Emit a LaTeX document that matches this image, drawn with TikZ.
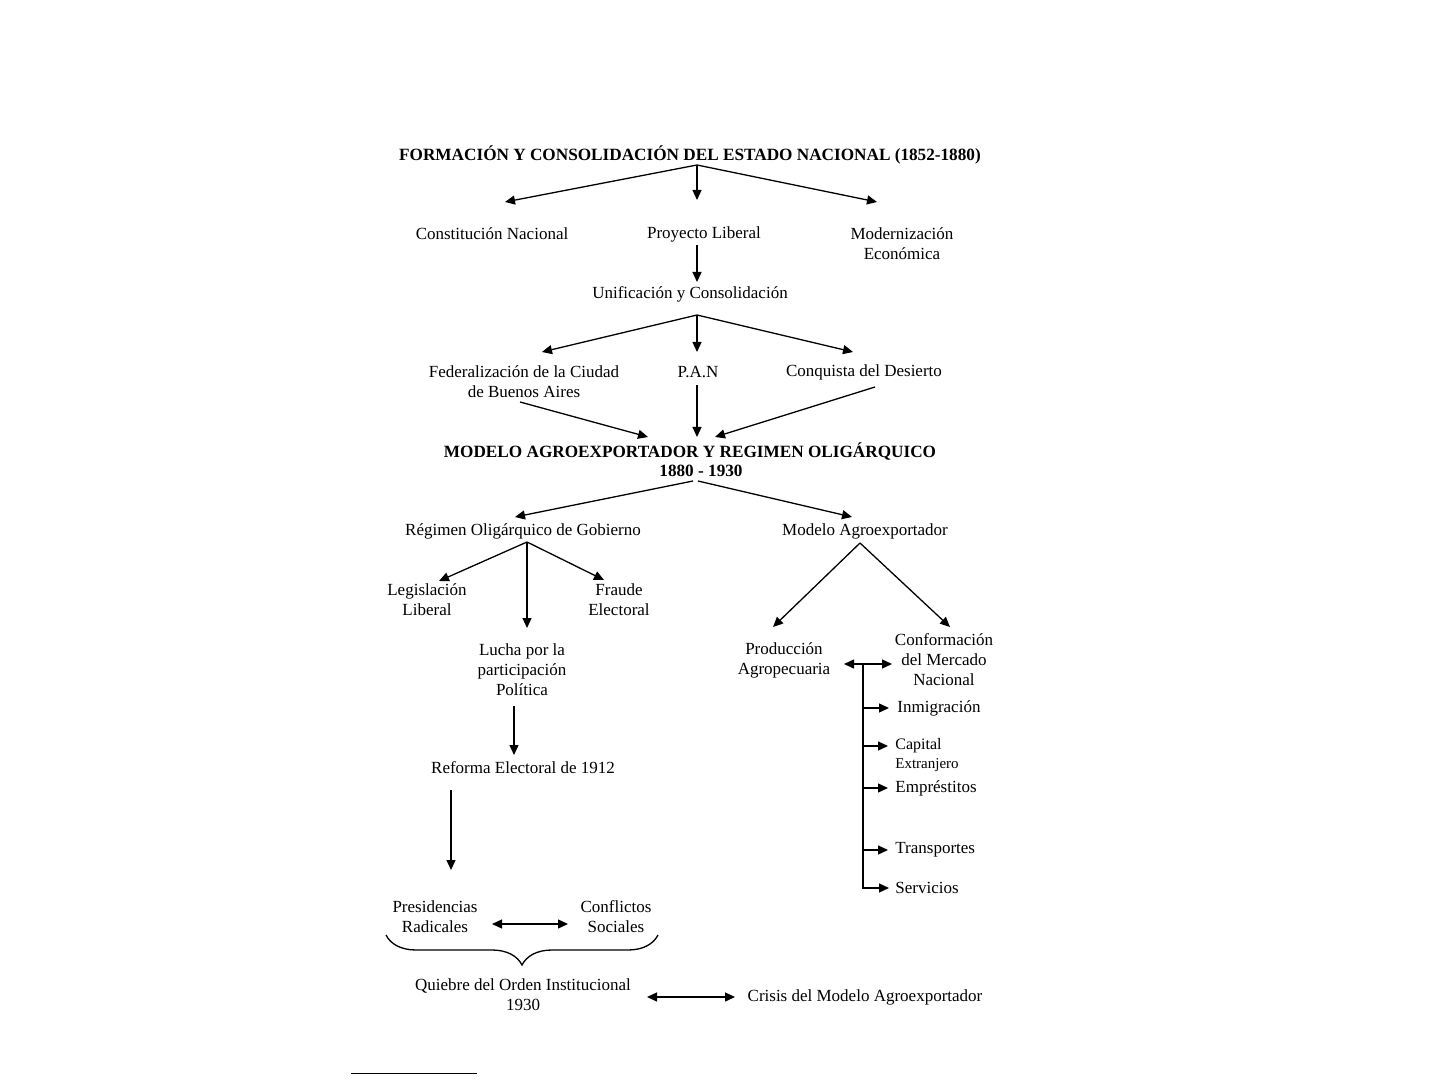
\documentclass[tikz,border=0pt]{standalone}
\usepackage{fontspec}
\setmainfont{Liberation Serif}
\usetikzlibrary{arrows.meta,calc,decorations.pathreplacing}
\begin{document}
\begin{tikzpicture}[x=0.5pt,y=-0.5pt,
  txt/.style={inner sep=0pt, align=center, font=\fontsize{8.5}{10}\selectfont},
  ttl/.style={inner sep=0pt, align=center, font=\fontsize{8.6}{10}\selectfont\bfseries},
  lft/.style={txt, anchor=west},
  arr/.style={line width=0.65pt, -{Triangle[length=5pt,width=4.5pt]}},
  darr/.style={line width=0.65pt, {Triangle[length=5pt,width=4.5pt]}-{Triangle[length=5pt,width=4.5pt]}},
  ln/.style={line width=0.65pt}]
\fill[white] (0,0) rectangle (1440,1080);
\useasboundingbox (0,0) rectangle (1440,1080);

% nodes
\node[ttl] (title) at (690,155) {FORMACIÓN Y CONSOLIDACIÓN DEL ESTADO NACIONAL (1852-1880)};
\node[txt] (const) at (492,234) {Constitución Nacional};
\node[txt] (proy) at (704,234) {Proyecto Liberal};
\node[txt] (modern) at (902,244) {Modernización\\Económica};
\node[txt] (unif) at (690,294) {Unificación y Consolidación};
\node[txt] (fed) at (524,382) {Federalización de la Ciudad\\de Buenos Aires};
\node[txt] (pan) at (698,372) {P.A.N};
\node[txt] (conq) at (864,372) {Conquista del Desierto};
\node[ttl] (modelo) at (690,452) {MODELO AGROEXPORTADOR Y REGIMEN OLIGÁRQUICO};
\node[ttl] (years) at (701,471) {1880 - 1930};
\node[txt] (regimen) at (523,531) {Régimen Oligárquico de Gobierno};
\node[txt] (agro) at (865,531) {Modelo Agroexportador};
\node[txt] (legis) at (427,600) {Legislación\\Liberal};
\node[txt] (fraude) at (619,600) {Fraude\\Electoral};
\node[txt] (lucha) at (522,670) {Lucha por la\\participación\\Política};
\node[txt] (reforma) at (523,768) {Reforma Electoral de 1912};
\node[txt] (pres) at (435,917) {Presidencias\\Radicales};
\node[txt] (confl) at (616,917) {Conflictos\\Sociales};
\node[txt] (quiebre) at (523,995) {Quiebre del Orden Institucional\\1930};
\node[txt] (crisis) at (865,997) {Crisis del Modelo Agroexportador};
\node[txt] (prod) at (784,660) {Producción\\Agropecuaria};
\node[txt] (conf) at (944,660) {Conformación\\del Mercado\\Nacional};
\node[lft] (inmig) at (897,708) {Inmigración};
\node[lft, font=\fontsize{8}{10}\selectfont] (capital) at (895,746) {Capital};
\node[lft, font=\fontsize{7.5}{10}\selectfont] (extr) at (895,765) {Extranjero};
\node[lft] (empr) at (895,788) {Empréstitos};
\node[lft] (transp) at (895,850) {Transportes};
\node[lft] (serv) at (895,888) {Servicios};

% connectors
\draw[arr] ($(title)+(7,10)$) -- ($(const)+(13,-32)$);
\draw[arr] ($(title)+(7,10)$) -- ($(proy)+(-7,-34)$);
\draw[arr] ($(title)+(7,10)$) -- ($(modern)+(-25,-42)$);
\draw[arr] ($(proy)+(-7,11)$) -- ($(unif)+(7,-12)$);
\draw[arr] ($(unif)+(7,21)$) -- ($(fed)+(18,-30)$);
\draw[arr] ($(unif)+(7,21)$) -- ($(pan)+(-1,-20)$);
\draw[arr] ($(unif)+(7,21)$) -- ($(conq)+(-11,-20)$);
\draw[arr] ($(fed)+(-4,20)$) -- ($(modelo)+(-42,-15)$);
\draw[arr] ($(pan)+(-1,13)$) -- ($(modelo)+(7,-15)$);
\draw[arr] ($(conq)+(11,15)$) -- ($(modelo)+(25,-15)$);
\draw[arr] ($(years)+(-8,10)$) -- ($(regimen)+(-8,-14)$);
\draw[arr] ($(years)+(-3,10)$) -- ($(agro)+(-13,-14)$);
\draw[arr] ($(regimen)+(4,11)$) -- ($(legis)+(12,-19)$);
\draw[arr] ($(regimen)+(4,11)$) -- ($(lucha)+(5,-42)$);
\draw[arr] ($(regimen)+(4,11)$) -- ($(fraude)+(-15,-20)$);
\draw[arr] ($(lucha)+(-8,36)$) -- ($(reforma)+(-9,-13)$);
\draw[arr] ($(reforma)+(-72,22)$) -- ($(pres)+(16,-47)$);
\draw[darr] ($(pres)+(57,7)$) -- ($(confl)+(-48,7)$);
\draw[ln, decorate, decoration={brace, mirror, amplitude=15pt}] ($(pres)+(-49,18)$) -- ($(confl)+(42,18)$);
\draw[darr] ($(quiebre)+(124,2)$) -- ($(crisis)+(-130,0)$);
\draw[arr] ($(agro)+(-5,12)$) -- ($(prod)+(-11,-33)$);
\draw[arr] ($(agro)+(-5,12)$) -- ($(conf)+(6,-33)$);
\draw[darr] ($(prod)+(60,4)$) -- ($(conf)+(-52,4)$);
\coordinate (tr) at ($(prod)+(79,4)$);
\draw[arr] (tr) |- ($(serv.west)+(-6,0)$);
\draw[arr] (tr |- inmig.west) -- ($(inmig.west)+(-8,0)$);
\draw[arr] (tr |- capital.west) -- ($(capital.west)+(-7,0)$);
\draw[arr] (tr |- empr.west) -- ($(empr.west)+(-7,0)$);
\draw[arr] (tr |- transp.west) -- ($(transp.west)+(-7,0)$);

% footnote rule
\draw[line width=0.5pt] (351,1073) -- (477,1073);
\end{tikzpicture}
\end{document}
